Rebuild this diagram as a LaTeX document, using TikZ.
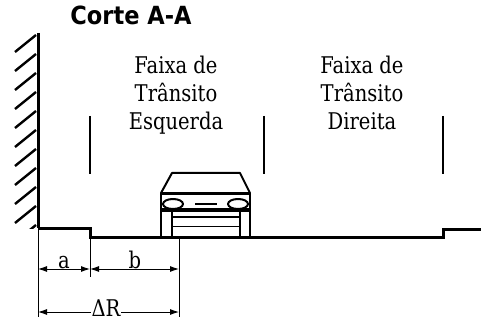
\documentclass[tikz,border=0pt]{standalone}
\usepackage{fontspec}
\newfontfamily\labfont[FakeStretch=0.85]{DejaVu Serif}
\newfontfamily\headfont[FakeStretch=0.9]{DejaVu Sans}
\usetikzlibrary{arrows.meta}
\begin{document}
\begin{tikzpicture}[x=1pt,y=-1pt,
  thick line/.style={line width=3pt},
  lane line/.style={line width=2pt},
  car line/.style={line width=2pt, line join=round},
  dim line/.style={line width=0.9pt},
  dim arrow/.style={dim line, {Latex[length=9pt,width=6pt]}-{Latex[length=9pt,width=6pt]}},
  lanetext/.style={align=center, inner sep=0pt, font=\labfont\fontsize{23}{28}\selectfont},
  dimtext/.style={fill=white, inner sep=1pt, anchor=base, font=\labfont\fontsize{23}{28}\selectfont},
  title/.style={inner sep=0pt, anchor=base, font=\headfont\bfseries\fontsize{25}{28}\selectfont}]
\useasboundingbox (0,0) rectangle (481,320);

% title
\node[title] (title) at (131,25) {Corte A-A};

% wall with hatching
\coordinate (wtop) at (38,33);
\coordinate (wbot) at (38,228);
\begin{scope}
  \clip (12,33) rectangle (38,228);
  \foreach \y in {35,54,...,226}
    \draw[line width=2.4pt] (36,\y) -- (15,\y+17);
\end{scope}
\draw[thick line] (wtop) -- (wbot);

% road surface with kerb steps
\coordinate (g1) at (90,228);
\coordinate (g2) at (90,237);
\coordinate (g3) at (443,237);
\coordinate (g4) at (443,229);
\coordinate (g5) at (481,229);
\draw[thick line, line join=miter] (wbot) -- (g1) -- (g2) -- (g3) -- (g4) -- (g5);

% lane markings
\foreach \x/\n in {90/l1,264/l2,443/l3} {
  \coordinate (\n t) at (\x,116);
  \coordinate (\n b) at (\x,174);
  \draw[lane line] (\n t) -- (\n b);
}

% lane labels
\node[lanetext] (left) at (176,95) {Faixa de\\Trânsito\\Esquerda};
\node[lanetext] (right) at (362,93) {Faixa de\\Trânsito\\Direita};

% car, seen from the front
\draw[car line] (161,193) -- (172,173) -- (240,173) -- (250,193);
\draw[car line] (161,193) rectangle (250,237);
\draw[line width=3pt] (161,194) -- (250,194);
\draw[line width=3pt] (161,210) -- (250,210);
\draw[car line, fill=white] (173,204) ellipse [x radius=10, y radius=5];
\draw[car line, fill=white] (238,204) ellipse [x radius=10, y radius=5];
\draw[line width=2.5pt] (195,204) -- (217,204);
\draw[car line] (172,210) -- (172,237);
\draw[car line] (240,210) -- (240,237);
\draw[car line] (172,217) -- (240,217);
\draw[line width=1pt] (172,226) -- (240,226);

% dimension extension lines
\coordinate (e1) at (38,317);
\coordinate (e2t) at (90,237);
\coordinate (e2) at (90,277);
\coordinate (e3t) at (179,237);
\coordinate (e3) at (179,317);
\draw[dim line] (wbot) -- (e1);
\draw[dim line] (e2t) -- (e2);
\draw[dim line] (e3t) -- (e3);

% dimensions
\coordinate (a1) at (38,269);
\coordinate (a2) at (90,269);
\coordinate (b2) at (179,269);
\coordinate (r1) at (38,312);
\coordinate (r2) at (179,312);
\draw[dim arrow] (a1) -- (a2);
\draw[dim arrow] (a2) -- (b2);
\draw[dim arrow] (r1) -- (r2);
\node[dimtext] (la) at (64,268) {a};
\node[dimtext] (lb) at (135,268) {b};
\node[dimtext] (lr) at (106,316) {ΔR};
\end{tikzpicture}
\end{document}
